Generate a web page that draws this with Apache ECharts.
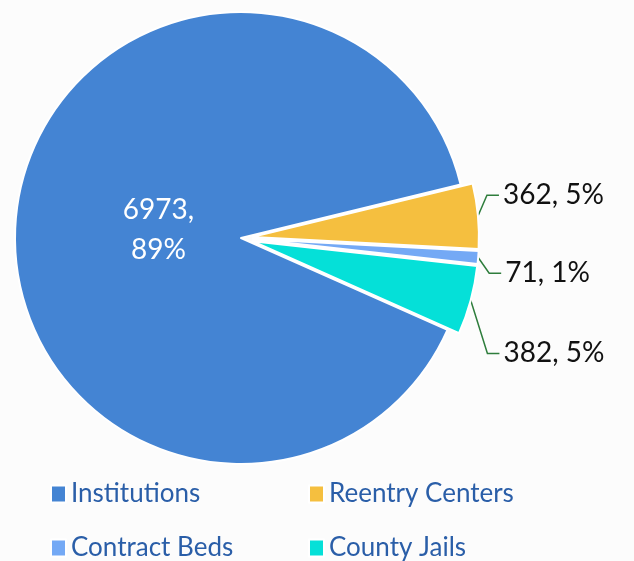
<!DOCTYPE html>
<html>
<head>
<meta charset="utf-8">
<script src="https://cdn.jsdelivr.net/npm/echarts@6/dist/echarts.min.js"></script>
<style>
  html, body { margin: 0; padding: 0; background: #fcfcfc; }
  #chart { width: 634px; height: 561px; }
</style>
</head>
<body>
<div id="chart"></div>
<script>
// data
var categories = ['Institutions', 'Reentry Centers', 'Contract Beds', 'County Jails'];
var beds = [6973, 362, 71, 382];
var colors = ['#4484d3', '#f5bf3f', '#74a9f5', '#05e0d8'];

// nudges for the outside labels so they spread like the original
var labelShiftY = [0, -20, 15, 51];
var labelShiftX = [0, 0, 2, 8];

var chart = echarts.init(document.getElementById('chart'));

var pieData = categories.map(function (name, i) {
    return {
        name: name,
        value: beds[i],
        selected: i > 0,   // small slices pulled out
        label: i === 0 ? {
            position: 'inside',
            color: '#ffffff',
            fontSize: 28,
            formatter: '{c},\n{d}%',
            lineHeight: 40
        } : undefined,
        labelLine: i === 0 ? { show: false } : undefined
    };
});

var option = {
    backgroundColor: '#fcfcfc',
    color: colors,
    animation: false,
    legend: {
        data: categories,
        left: 45,
        top: 472,
        width: 560,
        itemGap: 20,
        itemWidth: 15,
        itemHeight: 17,
        icon: 'rect',
        selectedMode: false,
        textStyle: {
            fontFamily: 'Lato',
            fontSize: 26,
            color: '#2a5ea8',
            width: 217,
            lineHeight: 34
        }
    },
    series: [{
        type: 'pie',
        center: [241, 238],
        radius: 226,
        startAngle: 336,
        clockwise: true,
        percentPrecision: 0,
        selectedMode: 'multiple',
        selectedOffset: 12,
        avoidLabelOverlap: true,
        itemStyle: {
            borderColor: '#ffffff',
            borderWidth: 2
        },
        emphasis: { disabled: true },
        label: {
            show: true,
            position: 'outside',
            formatter: '{c}, {d}%',
            fontFamily: 'Lato',
            fontSize: 28,
            color: '#111111'
        },
        labelLine: {
            show: true,
            length: 8,
            length2: 12,
            lineStyle: { color: '#2e7d3c', width: 1.5 }
        },
        labelLayout: function (params) {
            if (params.dataIndex === 0) {
                return { dx: 33, dy: 2 };
            }
            var dx = labelShiftX[params.dataIndex];
            var dy = labelShiftY[params.dataIndex];
            var r = params.labelRect;
            var pts = params.labelLinePoints;
            var yMid = r.y + dy + r.height / 2;
            var xEnd = r.x + dx - 4;
            var line = pts ? [pts[0], [xEnd - 12, yMid], [xEnd, yMid]] : undefined;
            return { dx: dx, dy: dy, labelLinePoints: line };
        },
        data: pieData
    }]
};

chart.setOption(option);
</script>
</body>
</html>
